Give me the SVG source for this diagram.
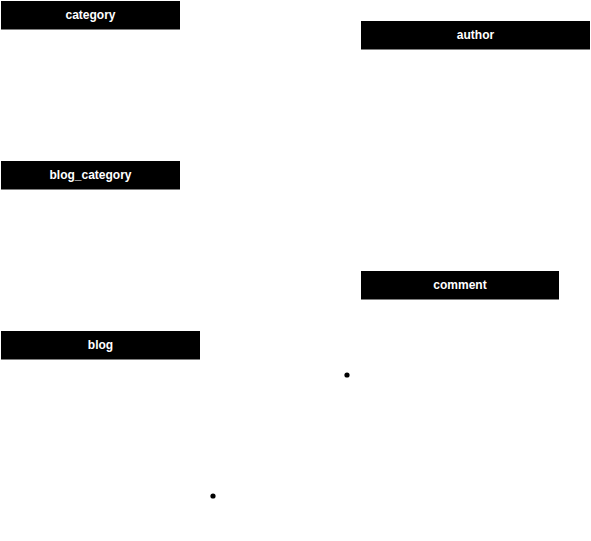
<svg xmlns="http://www.w3.org/2000/svg" width="591" height="541" viewBox="0 0 591 541">
<style>
.hd{fill:#000}
.t{fill:#fff;font-family:"Liberation Sans",Arial,sans-serif;font-weight:bold;font-size:12px;text-anchor:middle}
.dot{fill:#000}
</style>
<rect width="591" height="541" fill="#fff"/>
<g id="category"><rect class="hd" x="1" y="1" width="179" height="28.5"/><text class="t" x="90.5" y="19">category</text></g>
<g id="blog_category"><rect class="hd" x="1" y="161" width="179" height="28.5"/><text class="t" x="90.5" y="179">blog_category</text></g>
<g id="blog"><rect class="hd" x="1" y="331" width="199" height="28.5"/><text class="t" x="100.5" y="349">blog</text></g>
<g id="author"><rect class="hd" x="361" y="21" width="229" height="28.5"/><text class="t" x="475.5" y="39">author</text></g>
<g id="comment"><rect class="hd" x="361" y="271" width="198" height="28.5"/><text class="t" x="460" y="289">comment</text></g>
<g id="connectors">
<circle class="dot" cx="347" cy="375" r="2.6"/>
<circle class="dot" cx="213" cy="496" r="2.6"/>
</g>
</svg>
